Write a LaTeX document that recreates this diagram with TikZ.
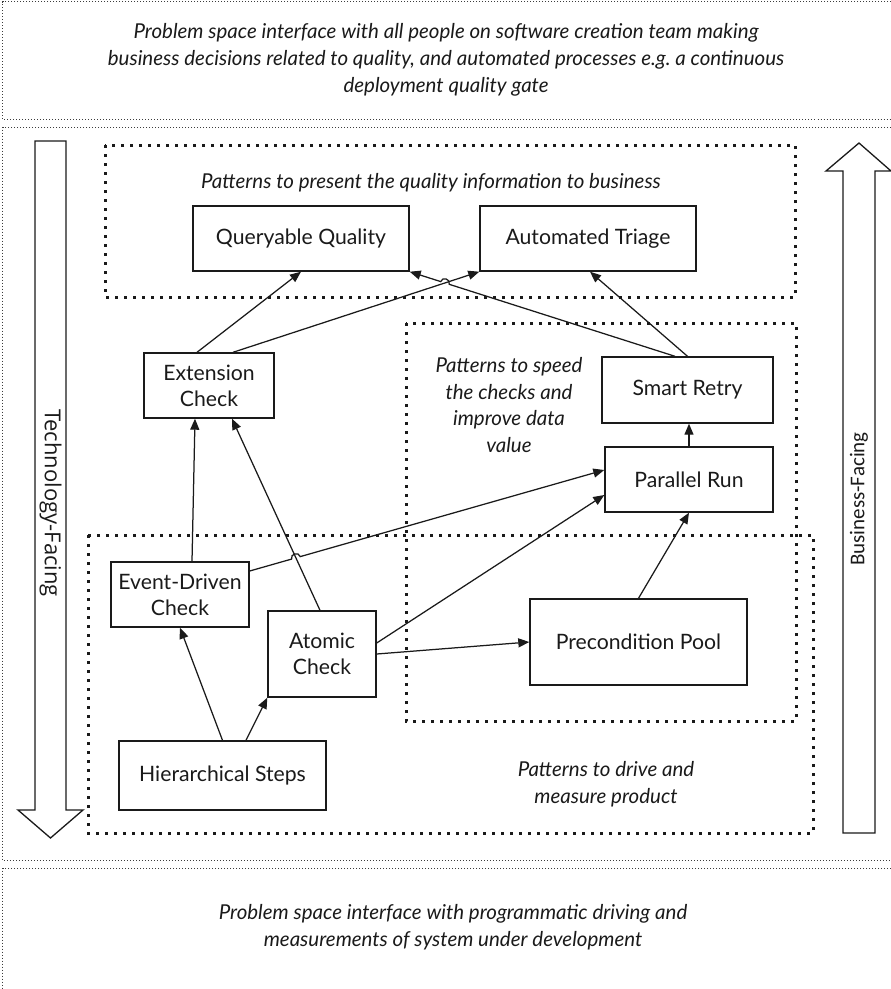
\documentclass[tikz,border=0pt]{standalone}
\usepackage{fontspec}
\setmainfont{Lato}
\newfontfamily\bizfont{Carlito}
\newfontfamily\techfont{Open Sans}
\usetikzlibrary{arrows.meta,calc,intersections}
\definecolor{ink}{HTML}{1A1A1A}

\begin{document}
\begin{tikzpicture}[x=1pt,y=-1pt,
  box/.style={draw=ink,line width=1.4pt,fill=white,align=center,inner sep=2pt,
              font=\fontsize{21.2}{26}\selectfont,text=ink},
  note/.style={align=center,font=\fontsize{20.5}{26.8}\selectfont\itshape,text=ink},
  group/.style={draw=ink,line width=3pt,dash pattern=on 3pt off 6pt},
  band/.style={draw=ink!85,line width=0.9pt,dash pattern=on 0.9pt off 2.1pt},
  conn/.style={draw=ink,line width=1.25pt,-{Triangle[length=11pt,width=9pt]}},
  bigarrow/.style={draw=ink,line width=1.3pt,fill=white,line join=miter}
]
\useasboundingbox (0,0) rectangle (891,989);
\clip (0,0) rectangle (891,989);

% three horizontal bands
\draw[band] (900,1.5) -- (2.5,1.5) -- (2.5,119) -- (900,119);
\draw[band] (900,127) -- (2.5,127) -- (2.5,860) -- (900,860);
\draw[band] (900,868) -- (2.5,868) -- (2.5,1000);

% pattern groups
\draw[group] (105,145) rectangle (795,297);
\draw[group] (406,323) rectangle (796,721);
\draw[group] (88,535) rectangle (813,833);

% side arrows
\draw[bigarrow] (35,141) -- (66,141) -- (66,810) -- (83,810) -- (50.5,838)
  -- (18,810) -- (35,810) -- cycle;
\node[rotate=-90,text=ink,font=\techfont\fontsize{22}{24}\selectfont] (tech) at (50.5,503) {Technology-Facing};
\draw[bigarrow] (843,833) -- (875,833) -- (875,171) -- (891,171) -- (859,143)
  -- (826,171) -- (843,171) -- cycle;
\node[rotate=90,text=ink,font=\bizfont\fontsize{21}{23}\selectfont] (biz) at (859,499) {Business-Facing};

% notes
\node[note] (topnote) at (446,60) {Problem space interface with all people on software creation team making\\business decisions related to quality, and automated processes e.g.\ a continuous\\deployment quality gate};
\node[note] (g1note) at (431,183) {Patterns to present the quality information to business};
\node[note] (g2note) at (509,405) {Patterns to speed\\the checks and\\improve data\\value};
\node[note] (g3note) at (606,784) {Patterns to drive and\\measure product};
\node[note] (botnote) at (453,927) {Problem space interface with programmatic driving and\\measurements of system under development};

% pattern boxes
\node[box,minimum width=216pt,minimum height=65pt] (qq) at (301,238.5) {Queryable Quality};
\node[box,minimum width=216pt,minimum height=65pt] (at) at (588,238.5) {Automated Triage};
\node[box,minimum width=130pt,minimum height=65pt] (ex) at (209,385.5) {Extension\\Check};
\node[box,minimum width=171pt,minimum height=66pt] (sr) at (687.5,390) {Smart Retry};
\node[box,minimum width=168pt,minimum height=65pt] (pr) at (689,479.5) {Parallel Run};
\node[box,minimum width=138pt,minimum height=65pt] (ed) at (180,594.5) {Event-Driven\\Check};
\node[box,minimum width=108pt,minimum height=86pt] (ac) at (322,654) {Atomic\\Check};
\node[box,minimum width=217pt,minimum height=86pt] (pp) at (638.5,642) {Precondition Pool};
\node[box,minimum width=207pt,minimum height=69pt] (hs) at (222.5,775.5) {Hierarchical Steps};

% connector end points
\coordinate (exA) at ([xshift=-12pt]ex.north);
\coordinate (exB) at ([xshift=24pt]ex.north);
\coordinate (exC) at ([xshift=-14pt]ex.south);
\coordinate (exD) at ([xshift=23pt]ex.south);
\coordinate (srA) at ([xshift=-12.5pt]sr.north);
\coordinate (atA) at ([xshift=2pt]at.south);
\coordinate (edA) at ([xshift=12pt]ed.north);
\coordinate (edB) at ([yshift=23.5pt]ed.east);
\coordinate (acA) at ([xshift=-2pt]ac.north);
\coordinate (acB) at ([yshift=11pt]ac.east);
\coordinate (prA) at ([yshift=9.5pt]pr.west);
\coordinate (prB) at ([yshift=-15.5pt]pr.west);
\coordinate (hsA) at ([xshift=23.5pt]hs.north);

% crossings that get a line jump
\path[name path=exat] (exB) -- (at.south west);
\path[name path=srqq] (srA) -- (qq.south east);
\path[name intersections={of=exat and srqq,by=xa}];
\path[name path=acex] (acA) -- (exD);
\path[name path=edpr] (edB) -- (prA);
\path[name intersections={of=acex and edpr,by=xb}];

% connectors
\draw[conn] (exA) -- (qq.south);
\draw[conn] (exB) -- (at.south west);
\coordinate (ha1) at ($(xa)!4.5pt!(srA)$);
\coordinate (ha2) at ($(xa)!4.5pt!(qq.south east)$);
\draw[conn] (srA) -- (ha1) .. controls ($(ha1)!5.5pt!-90:(xa)$) and ($(ha2)!5.5pt!90:(xa)$) .. (ha2) -- (qq.south east);
\draw[conn] (sr.north) -- (atA);
\draw[conn] (pr.north) -- (pr.north |- sr.south);
\draw[conn] (edA) -- (exC);
\draw[conn] (acA) -- (exD);
\coordinate (hb1) at ($(xb)!4.5pt!(edB)$);
\coordinate (hb2) at ($(xb)!4.5pt!(prA)$);
\draw[conn] (edB) -- (hb1) .. controls ($(hb1)!5.5pt!90:(xb)$) and ($(hb2)!5.5pt!-90:(xb)$) .. (hb2) -- (prA);
\draw[conn] (acB) -- (prB);
\draw[conn] (ac.east) -- (pp.west);
\draw[conn] (pp.north) -- (pr.south);
\draw[conn] (hs.north) -- (ed.south);
\draw[conn] (hsA) -- (ac.south west);
\end{tikzpicture}
\end{document}
